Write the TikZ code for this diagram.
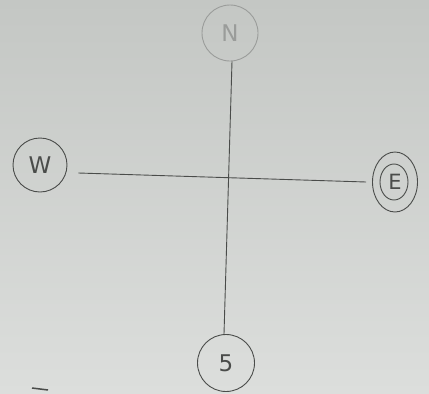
\documentclass[tikz,border=0pt]{standalone}
\usepackage{fontspec}
\setmainfont{DejaVu Sans}
\usetikzlibrary{shapes.geometric}
\definecolor{paperTop}{HTML}{C4C7C4}
\definecolor{paperBot}{HTML}{DCDEDC}
\definecolor{ink}{HTML}{4A4C4A}
\definecolor{faint}{HTML}{9A9C9A}
\tikzset{
  dir/.style={circle, draw=ink, line width=0.9pt, minimum size=55pt, inner sep=0pt,
              text=ink, font=\fontsize{23}{23}\selectfont},
  faintdir/.style={dir, draw=faint, text=faint},
  stroke/.style={draw=ink, line width=0.9pt},
}
\begin{document}
\begin{tikzpicture}[x=1pt,y=-1pt]
  \shade[top color=paperTop, bottom color=paperBot] (0,0) rectangle (429,394);
  \useasboundingbox (0,0) rectangle (429,394);
  \node[faintdir, minimum size=56pt] (n) at (230,33) {N};
  \node[dir, minimum size=54pt] (w) at (40,165) {W};
  \node[dir, ellipse, minimum width=45pt, minimum height=60pt, font=\fontsize{21}{21}\selectfont] (e) at (395,182) {E};
  \draw[ink, line width=0.9pt] ([xshift=-1pt]e.center) ellipse [x radius=14pt, y radius=18pt];
  \node[dir, minimum size=57pt] (s) at (226,363) {5};
  \draw[stroke] ([xshift=11pt,yshift=-8pt]w.east) -- ([xshift=-6pt]e.west);
  \draw[stroke] ([xshift=2pt]n.south) -- ([xshift=-2pt]s.north);
  \coordinate (d1) at (32,388);
  \coordinate (d2) at (48,390);
  \draw[ink, line width=1.5pt] (d1) -- (d2);
\end{tikzpicture}
\end{document}
